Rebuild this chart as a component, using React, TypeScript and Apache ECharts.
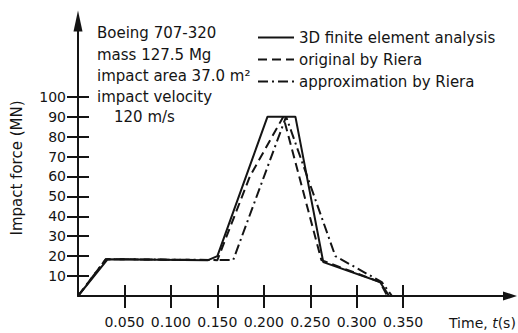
import React, { useEffect, useRef } from "react";
import * as echarts from "echarts";

// Time (s) and impact force (MN)
const feTime = [0, 0.032, 0.14, 0.15, 0.204, 0.234, 0.264, 0.325, 0.335];
const feForce = [0, 18.5, 18, 20, 90, 90, 17, 7, 0];

const rieraTime = [0, 0.03, 0.15, 0.185, 0.221, 0.262, 0.325, 0.333];
const rieraForce = [0, 18.5, 18, 60, 90, 18, 7, 0];

const approxTime = [0, 0.03, 0.167, 0.224, 0.277, 0.327, 0.338];
const approxForce = [0, 18.5, 18, 90, 20, 7, 0];

const xTicks = [0.05, 0.1, 0.15, 0.2, 0.25, 0.3, 0.35];
const yTicks = [10, 20, 30, 40, 50, 60, 70, 80, 90, 100];

const seriesNames = [
  "3D finite element analysis",
  "original by Riera",
  "approximation by Riera",
];

const notes = [
  "Boeing 707-320",
  "mass 127.5 Mg",
  "impact area 37.0 m²",
  "impact velocity",
];
const noteVelocity = "120 m/s";

const X_MAX = 0.465;
const Y_MAX = 138;
const FONT = "DejaVu Sans";
const INK = "#141414";

function pairs(t: number[], f: number[]) {
  return t.map((v, i) => [v, f[i]]);
}

export default function App() {
  const ref = useRef<HTMLDivElement>(null);
  useEffect(() => {
    document.body.style.margin = "0";
    if (!ref.current) return;
    const chart = echarts.init(ref.current, undefined, { renderer: "svg" });
    const gridLeft = 78;
    const gridRight = 8;
    const gridTop = 21;
    const gridBottom = 37;
    const gridW = 518 - gridLeft - gridRight;
    const gridH = 333 - gridTop - gridBottom;

    const lineBase = { color: INK, width: 2 };
    chart.setOption({
      animation: false,
      backgroundColor: "#ffffff",
      grid: { left: gridLeft, right: gridRight, top: gridTop, bottom: gridBottom },
      legend: {
        orient: "vertical",
        left: 252,
        top: 25,
        itemWidth: 36,
        itemHeight: 14,
        itemGap: 7,
        itemStyle: { opacity: 0 },
        textStyle: { fontFamily: FONT, fontSize: 15, color: INK },
        data: seriesNames,
      },
      xAxis: [
        {
          type: "value",
          position: "bottom",
          min: 0,
          max: X_MAX,
          axisLine: {
            onZero: false,
            lineStyle: { color: INK, width: 2 },
            symbol: ["none", "triangle"],
            symbolSize: [9, 14],
          },
          axisTick: {
            show: true,
            customValues: xTicks,
            length: 12,
            lineStyle: { color: INK, width: 2 },
          },
          axisLabel: {
            customValues: xTicks,
            margin: 19,
            fontFamily: FONT,
            fontSize: 14,
            color: INK,
            formatter: (v: number) => v.toFixed(3),
          },
          splitLine: { show: false },
        },
        {
          type: "value",
          position: "top",
          offset: -gridH,
          min: 0,
          max: X_MAX,
          axisLine: { show: false, onZero: false },
          axisTick: {
            show: true,
            inside: false,
            customValues: xTicks,
            length: 11,
            lineStyle: { color: INK, width: 2 },
          },
          axisLabel: { show: false },
          splitLine: { show: false },
        },
      ],
      yAxis: [
        {
          type: "value",
          position: "left",
          min: 0,
          max: Y_MAX,
          axisLine: {
            show: true,
            onZero: false,
            lineStyle: { color: INK, width: 2 },
            symbol: ["none", "triangle"],
            symbolSize: [9, 21],
          },
          axisTick: {
            show: true,
            customValues: yTicks,
            length: 11,
            lineStyle: { color: INK, width: 2 },
          },
          axisLabel: {
            customValues: yTicks,
            margin: 12,
            fontFamily: FONT,
            fontSize: 14,
            color: INK,
          },
          splitLine: { show: false },
        },
        {
          type: "value",
          position: "right",
          offset: -gridW,
          min: 0,
          max: Y_MAX,
          axisLine: { show: false, onZero: false },
          axisTick: {
            show: true,
            inside: false,
            customValues: yTicks,
            length: 11,
            lineStyle: { color: INK, width: 2 },
          },
          axisLabel: { show: false },
          splitLine: { show: false },
        },
      ],
      series: [
        {
          name: seriesNames[0],
          type: "line",
          symbol: "none",
          color: INK,
          lineStyle: { ...lineBase, type: "solid" },
          data: pairs(feTime, feForce),
        },
        {
          name: seriesNames[1],
          type: "line",
          symbol: "none",
          color: INK,
          lineStyle: { ...lineBase, type: [9, 5] },
          data: pairs(rieraTime, rieraForce),
        },
        {
          name: seriesNames[2],
          type: "line",
          symbol: "none",
          color: INK,
          lineStyle: { ...lineBase, type: [10, 4, 2, 4] },
          data: pairs(approxTime, approxForce),
        },
      ],
      graphic: [
        ...notes.map((t, i) => ({
          type: "text",
          x: 97,
          y: [33, 55, 76, 97][i],
          style: {
            text: t,
            font: `15px "${FONT}"`,
            fill: INK,
            align: "left",
            verticalAlign: "middle",
          },
        })),
        {
          type: "text",
          x: 114,
          y: 117,
          style: {
            text: noteVelocity,
            font: `15px "${FONT}"`,
            fill: INK,
            align: "left",
            verticalAlign: "middle",
          },
        },
        {
          type: "text",
          x: 17,
          y: 168,
          rotation: Math.PI / 2,
          style: {
            text: "Impact force (MN)",
            font: `15px "${FONT}"`,
            fill: INK,
            align: "center",
            verticalAlign: "middle",
          },
        },
        {
          type: "text",
          x: 449,
          y: 323,
          style: {
            text: "Time, {i|t}(s)",
            font: `14px "${FONT}"`,
            fill: INK,
            align: "left",
            verticalAlign: "middle",
            rich: {
              i: { fontStyle: "italic", fontFamily: FONT, fontSize: 14, fill: INK },
            },
          },
        },
      ],
    });
    return () => chart.dispose();
  }, []);
  return <div ref={ref} style={{ width: 518, height: 333 }} />;
}
